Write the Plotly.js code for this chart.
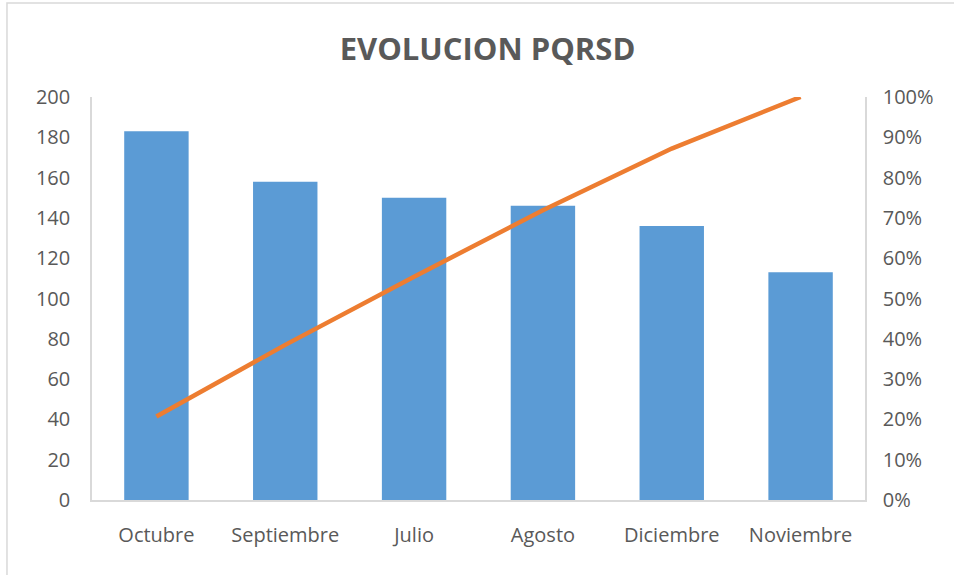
<!DOCTYPE html>
<html>
<head>
<meta charset="utf-8">
<script src="https://cdn.plot.ly/plotly-3.0.1.min.js"></script>
<style>
  html, body { margin: 0; padding: 0; background: #fff; }
  #chart { width: 954px; height: 575px; }
</style>
</head>
<body>
<div id="chart"></div>
<script>
// Sample data
const months = ['Octubre', 'Septiembre', 'Julio', 'Agosto', 'Diciembre', 'Noviembre'];
const counts = [183, 158, 150, 146, 136, 113];
const cumulativePct = [0.207, 0.385, 0.554, 0.719, 0.872, 1.0];

const axisGray = '#d9d9d9';
const textGray = '#595959';

const barTrace = {
    type: 'bar',
    x: months,
    y: counts,
    marker: { color: '#5b9bd5' },
    hoverinfo: 'x+y'
};

const lineTrace = {
    type: 'scatter',
    mode: 'lines',
    x: months,
    y: cumulativePct,
    yaxis: 'y2',
    line: { color: '#ed7d31', width: 4.5 }
};

const layout = {
    width: 954,
    height: 575,
    showlegend: false,
    paper_bgcolor: '#fff',
    plot_bgcolor: '#fff',
    margin: { t: 97, r: 89, b: 75, l: 92 },
    font: { family: 'Open Sans, sans-serif', size: 20, color: textGray },
    title: {
        text: '<b>EVOLUCION PQRSD</b>',
        font: { family: 'Open Sans, sans-serif', size: 31, color: textGray },
        x: 0.511,
        xanchor: 'center',
        y: 0.915,
        yanchor: 'middle'
    },
    bargap: 0.5,
    xaxis: {
        showline: true,
        linecolor: axisGray,
        linewidth: 1.5,
        ticks: '',
        ticklabelstandoff: 16,
        tickfont: { size: 20, color: textGray }
    },
    yaxis: {
        range: [0, 200],
        dtick: 20,
        showgrid: false,
        zeroline: false,
        showline: true,
        linecolor: axisGray,
        linewidth: 1.5,
        ticks: '',
        ticklabelstandoff: 16,
        tickfont: { size: 20, color: textGray }
    },
    yaxis2: {
        overlaying: 'y',
        side: 'right',
        range: [0, 1],
        dtick: 0.1,
        tickformat: '.0%',
        showgrid: false,
        zeroline: false,
        showline: true,
        linecolor: axisGray,
        linewidth: 1.5,
        ticks: '',
        ticklabelstandoff: 12,
        tickfont: { size: 20, color: textGray }
    },
    shapes: [{
        type: 'rect',
        xref: 'paper', yref: 'paper',
        x0: -0.11, x1: 1.2, y0: -0.3, y1: 1.233,
        line: { color: '#d9d9d9', width: 1.5 }
    }]
};

Plotly.newPlot('chart', [barTrace, lineTrace], layout, { displayModeBar: false });
</script>
</body>
</html>
